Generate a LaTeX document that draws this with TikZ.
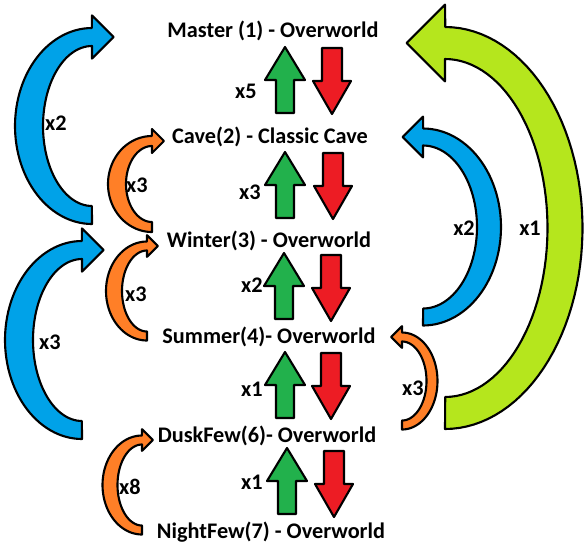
\documentclass[tikz,border=0pt]{standalone}
\usepackage{fontspec}
\setmainfont{Carlito}
\usetikzlibrary{positioning}
\definecolor{paintblue}{RGB}{0,162,232}
\definecolor{paintorange}{RGB}{255,127,39}
\definecolor{paintlime}{RGB}{181,230,29}
\definecolor{paintgreen}{RGB}{34,177,76}
\definecolor{paintred}{RGB}{237,28,36}
\tikzset{world/.style={font=\fontsize{19}{22}\selectfont\bfseries, inner sep=0pt, anchor=base}}
\tikzset{count/.style={font=\fontsize{19}{22}\selectfont\bfseries, inner sep=0pt}}
\tikzset{blockarrow/.style={draw=black, line width=1.8pt, line join=round}}
\tikzset{uparrow/.pic={\filldraw[blockarrow, fill=paintgreen] (0,-33) -- (20,0) -- (9,0) -- (9,33) -- (-9,33) -- (-9,0) -- (-20,0) -- cycle;}}
\tikzset{downarrow/.pic={\filldraw[blockarrow, fill=paintred] (0,33) -- (19,0) -- (10,0) -- (10,-33) -- (-10,-33) -- (-10,0) -- (-19,0) -- cycle;}}
% colour, cx, cy, x radius, y radius, mid width, end width, side (1 = bulge left, -1 = bulge right)
\newcommand{\bentarrow}[8]{%
  \filldraw[blockarrow, fill=#1]
    plot[domain=0:1, samples=60] ({#2+(#4+#6/2)*cos(90+#8*180*\x)}, {#3+(#5+#7/2)*sin(90+#8*180*\x)})
    -- ({#2}, {#3-#5-#7/2-0.7*#7}) -- ({#2+#8*1.2*#7}, {#3-#5}) -- ({#2}, {#3-#5+#7/2+0.7*#7})
    -- plot[domain=0:1, samples=60] ({#2+(#4-#6/2)*cos(90+#8*180*(1-\x))}, {#3+(#5-#7/2)*sin(90+#8*180*(1-\x))})
    -- cycle;
}

\begin{document}
\begin{tikzpicture}[x=0.03cm, y=-0.03cm]
    \useasboundingbox (0,0) rectangle (588,550);
    \fill[white] (0,0) rectangle (588,550);

    \node(master)[world] at (273,37)  {Master (1) - Overworld};
    \node(cave)[world]   at (270,143) {Cave(2) - Classic Cave};
    \node(winter)[world] at (269,247) {Winter(3) - Overworld};
    \node(summer)[world] at (269,343) {Summer(4)- Overworld};
    \node(dusk)[world]   at (267,442) {DuskFew(6)- Overworld};
    \node(night)[world]  at (271,538) {NightFew(7) - Overworld};

    % up and down between the worlds
    \pic at (285,80)  {uparrow};  \pic at (332,81)  {downarrow};
    \pic at (285,185) {uparrow};  \pic at (333,186) {downarrow};
    \pic at (284,286) {uparrow};  \pic at (331,288) {downarrow};
    \pic at (285,385) {uparrow};  \pic at (331,386) {downarrow};
    \pic at (287,481) {uparrow};  \pic at (334,484) {downarrow};

    \node(mc)[count] at (246,91)  {x5};
    \node(cw)[count] at (250,192) {x3};
    \node(ws)[count] at (252,285) {x2};
    \node(sd)[count] at (252,389) {x1};
    \node(dn)[count] at (252,482) {x1};

    % left side
    \bentarrow{paintblue}{92}{126}{63}{89}{28}{18}{1}
    \bentarrow{paintblue}{82}{340}{63}{90}{28}{18}{1}
    \bentarrow{paintorange}{152}{184}{35}{43}{18}{10}{1}
    \bentarrow{paintorange}{147}{291}{33}{45}{16}{9}{1}
    \bentarrow{paintorange}{142}{485}{32}{45}{15}{9}{1}

    \node(wm)[count] at (56,123)  {x2};
    \node(sw)[count] at (50,342)  {x3};
    \node(wc)[count] at (137,185) {x3};
    \node(sw2)[count] at (136,294) {x3};
    \node(nd)[count] at (130,487) {x8};

    % right side
    \bentarrow{paintlime}{445}{228}{120}{185}{35}{32}{-1}
    \bentarrow{paintblue}{423}{227}{66}{90}{24}{17}{-1}
    \bentarrow{paintorange}{402}{381}{30}{44}{11}{9}{-1}

    \node(sc)[count] at (464,228) {x2};
    \node(dm)[count] at (530,228) {x1};
    \node(ds)[count] at (413,388) {x3};

\end{tikzpicture}
\end{document}
